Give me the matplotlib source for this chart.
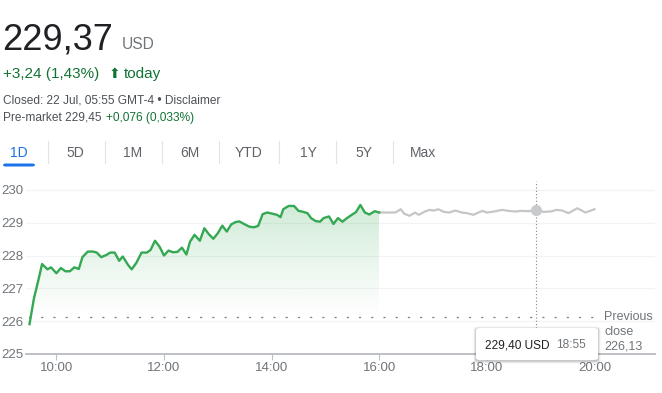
import numpy as np
import matplotlib
matplotlib.use("Agg")
import matplotlib.pyplot as plt
from matplotlib.patches import Polygon, FancyBboxPatch
from matplotlib.lines import Line2D

plt.rcParams['font.family'] = ['Liberation Sans', 'DejaVu Sans']

# regular session (green)
session_times = [
    "09:30", "09:35", "09:40", "09:44", "09:50", "09:54",
    "10:00", "10:05", "10:10", "10:15", "10:20", "10:25", "10:29", "10:35", "10:41", "10:45", "10:50", "10:56",
    "11:00", "11:05", "11:10", "11:14", "11:20", "11:24", "11:29", "11:35", "11:41", "11:45", "11:50", "11:55",
    "12:00", "12:05", "12:10", "12:15", "12:20", "12:25", "12:29", "12:34", "12:40", "12:45", "12:50", "12:55",
    "13:00", "13:05", "13:10", "13:15", "13:20", "13:24", "13:30", "13:35", "13:40", "13:45", "13:50", "13:55",
    "14:00", "14:06", "14:10", "14:13", "14:19", "14:25", "14:30", "14:34", "14:40", "14:44", "14:49", "14:54", "14:58",
    "15:04", "15:09", "15:14", "15:19", "15:24", "15:30", "15:34", "15:39", "15:44", "15:49", "15:55",
    "16:00",
]
session_prices = [
    225.91, 226.70, 227.26, 227.74, 227.58, 227.64,
    227.46, 227.62, 227.52, 227.52, 227.64, 227.59, 227.95, 228.12, 228.12, 228.09, 227.95, 228.02,
    228.09, 228.09, 227.84, 227.97, 227.71, 227.58, 227.77, 228.09, 228.09, 228.17, 228.45, 228.27,
    228.00, 228.15, 228.10, 228.11, 228.24, 228.03, 228.42, 228.63, 228.45, 228.83, 228.65, 228.51,
    228.68, 228.91, 228.73, 228.95, 229.02, 229.04, 228.95, 228.88, 228.86, 228.90, 229.26, 229.31,
    229.28, 229.24, 229.17, 229.41, 229.51, 229.51, 229.36, 229.34, 229.29, 229.14, 229.05, 229.03, 229.14,
    229.19, 228.96, 229.14, 229.03, 229.14, 229.25, 229.32, 229.54, 229.31, 229.25, 229.35,
    229.31,
]

# after hours (grey)
ext_times = [
    "16:00", "16:18", "16:24", "16:28", "16:34", "16:40", "16:44", "16:51", "16:56",
    "17:01", "17:06", "17:12", "17:18", "17:25", "17:32", "17:38", "17:45", "17:49", "17:55",
    "18:00", "18:06", "18:17", "18:24", "18:32", "18:39", "18:47", "18:55",
    "19:03", "19:11", "19:18", "19:24", "19:31", "19:41", "19:50", "20:00",
]
ext_prices = [
    229.31, 229.31, 229.41, 229.27, 229.21, 229.31, 229.24, 229.34, 229.39,
    229.37, 229.41, 229.33, 229.31, 229.37, 229.31, 229.29, 229.24, 229.29, 229.36,
    229.31, 229.33, 229.39, 229.36, 229.34, 229.36, 229.35, 229.40,
    229.33, 229.34, 229.39, 229.37, 229.29, 229.44, 229.31, 229.41,
]

prev_close = 226.13
hover_time = "18:55"
hover_price = 229.40
y_ticks = [225, 226, 227, 228, 229, 230]
x_ticks = ["10:00", "12:00", "14:00", "16:00", "18:00", "20:00"]
tabs = ["1D", "5D", "1M", "6M", "YTD", "1Y", "5Y", "Max"]

DARK = '#202124'
GREY = '#70757a'
GREEN_TXT = '#137333'
LINE_GREEN = '#34a853'
LINE_GREY = '#c4c7c5'
BLUE = '#1a73e8'

W, H = 662, 393


def to_hours(t):
    h, m = t.split(":")
    return int(h) + int(m) / 60.0


def px(x, y):
    # pixel position (from top-left) -> figure fraction
    return x / W, 1 - y / H


def fmt(v, nd=2):
    return f"{v:.{nd}f}".replace(".", ",")


fig = plt.figure(figsize=(W / 100, H / 100), dpi=100)

# ---- header ----
fig.text(*px(2, 50), "229,37", fontsize=26, color=DARK, va='baseline')
fig.text(*px(122, 49), "USD", fontsize=11.2, color=GREY, va='baseline')
fig.text(*px(3, 78), "+3,24 (1,43%)", fontsize=11, color=GREEN_TXT, va='baseline')
fig.text(*px(109, 78), "\u2b06", fontsize=10, color=GREEN_TXT, va='baseline',
         family=['DejaVu Sans'])
fig.text(*px(124, 78), "today", fontsize=11, color=GREEN_TXT, va='baseline')
fig.text(*px(3, 103.5), "Closed: 22 Jul, 05:55 GMT-4 \u2022 Disclaimer", fontsize=8.6,
         color='#4d5156', va='baseline')
fig.text(*px(3, 121), "Pre-market 229,45 ", fontsize=8.6, color='#4d5156', va='baseline')
fig.text(*px(106, 121), "+0,076 (0,033%)", fontsize=8.6, color=GREEN_TXT, va='baseline')

# ---- range tabs ----
tab_centers = [19, 75, 133, 190, 249, 308, 364, 423]
seps = [48, 105, 162, 219, 279, 336, 393]
for name, cx in zip(tabs, tab_centers):
    fig.text(*px(cx, 157.5), name, fontsize=10, ha='center', va='baseline',
             color=BLUE if name == "1D" else '#5f6368')
for sx in seps:
    fig.add_artist(Line2D([sx / W, sx / W], [1 - 141 / H, 1 - 163 / H],
                          color='#e3e3e3', lw=0.8))
fig.add_artist(FancyBboxPatch((3 / W, 1 - 166.5 / H), 32 / W, 3 / H,
                              boxstyle="round,pad=0,rounding_size=0.004",
                              transform=fig.transFigure, color=BLUE, lw=0))

# ---- chart ----
ax_l, ax_r, ax_b, ax_t = 26, 655, 354, 181
ax = fig.add_axes([ax_l / W, 1 - ax_b / H, (ax_r - ax_l) / W, (ax_b - ax_t) / H])

xs = np.array([to_hours(t) for t in session_times])
ys = np.array(session_prices)
xe = np.array([to_hours(t) for t in ext_times])
ye = np.array(ext_prices)

y_top = 230.27
x_left = 9.5 - 3.5 / 53.8

# gradient fill under the session line
base = prev_close
verts = np.column_stack([np.r_[xs[0], xs, xs[-1]], np.r_[base, ys, base]])
clip = Polygon(verts, closed=True, facecolor='none', edgecolor='none')
ax.add_patch(clip)
n = 256
grad = np.zeros((n, 1, 4))
grad[..., 0] = 52 / 255
grad[..., 1] = 168 / 255
grad[..., 2] = 83 / 255
grad[:, 0, 3] = np.linspace(0.26, 0.0, n) ** 1.1
im = ax.imshow(grad, extent=[xs[0], xs[-1], base, ys.max()], aspect='auto',
               origin='upper', zorder=1, interpolation='bilinear')
im.set_clip_path(clip)

ax.plot(xe, ye, color=LINE_GREY, lw=1.6, zorder=3, solid_joinstyle='round')
ax.plot(xs, ys, color=LINE_GREEN, lw=1.7, zorder=4, solid_joinstyle='round')

# previous close line
ax.plot([xs[0], 20.1], [prev_close, prev_close], color='#80868b', lw=1.0,
        linestyle=(0, (0.8, 8)), zorder=2, dash_capstyle='round')
ax.text(20.18, prev_close + 0.18, "Previous\nclose\n" + fmt(prev_close), fontsize=9,
        color=GREY, va='top', ha='left', linespacing=1.32, clip_on=False)

# hover cursor
hx = to_hours(hover_time)
ax.plot([hx, hx], [225.8, y_top], color='#80868b', lw=0.8, linestyle=(0, (1, 2)), zorder=2)
ax.plot([hx], [hover_price], 'o', color='#c8cacc', ms=8, zorder=5, mec='none')

ax.set_xlim(x_left, x_left + (ax_r - ax_l) / 53.8)
ax.set_ylim(225, y_top)
ax.set_yticks(y_ticks)
ax.set_yticklabels([str(v) for v in y_ticks])
ax.set_xticks([to_hours(t) for t in x_ticks])
ax.set_xticklabels(x_ticks)
ax.grid(axis='y', color='#f1f3f4', lw=0.9)
ax.set_axisbelow(True)
for s in ['top', 'right', 'left']:
    ax.spines[s].set_visible(False)
ax.spines['bottom'].set_color('#bdc1c6')
ax.spines['bottom'].set_linewidth(1.4)
ax.tick_params(axis='y', length=0, pad=2, labelsize=9.5, labelcolor=GREY)
ax.tick_params(axis='x', length=4, width=0.8, color='#bdc1c6', pad=2,
               labelsize=9.5, labelcolor=GREY)
ax.set_facecolor('none')

# tooltip
for off, a in [(2.5, 0.05), (1.5, 0.08), (0.7, 0.10)]:
    fig.add_artist(FancyBboxPatch(((476 - off) / W, 1 - (360 + off + 1) / H),
                                  (122 + 2 * off) / W, (32 + 2 * off) / H,
                                  boxstyle="round,pad=0,rounding_size=0.006",
                                  transform=fig.transFigure, color='black', alpha=a, lw=0))
fig.add_artist(FancyBboxPatch((476 / W, 1 - 360 / H), 122 / W, 32 / H,
                              boxstyle="round,pad=0,rounding_size=0.006",
                              transform=fig.transFigure, color='white', lw=0))
fig.text(*px(485, 348.5), fmt(hover_price) + " USD", fontsize=8.6, color=DARK, va='baseline')
fig.text(*px(556, 348.5), hover_time, fontsize=8.6, color=GREY, va='baseline')

fig.savefig("out.png", dpi=100)
